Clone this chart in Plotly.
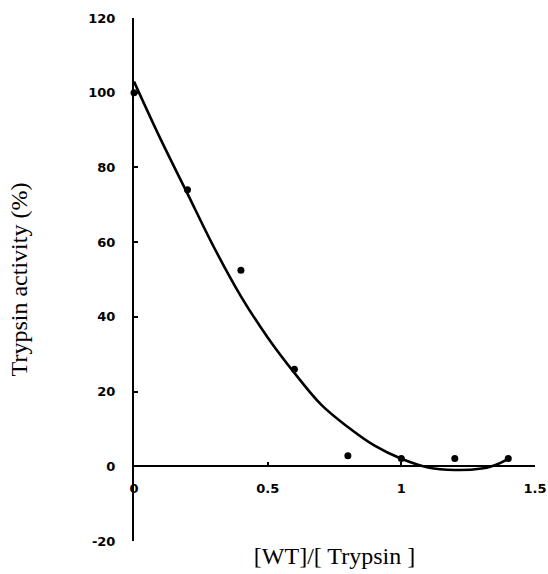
import plotly.graph_objects as go

# measured data points
ratio = [0.0, 0.2, 0.4, 0.6, 0.8, 1.0, 1.2, 1.4]
activity = [100, 74, 52.5, 26, 2.8, 2.1, 2.1, 2.1]

# trend curve
curve_x = [0.0, 0.1, 0.2, 0.3, 0.4, 0.5, 0.6, 0.7, 0.8, 0.9, 1.0, 1.1, 1.2, 1.3, 1.35, 1.4]
curve_y = [103, 87.5, 73, 58.5, 45.5, 34.5, 25, 16.5, 10.5, 5.5, 2, -0.3, -1, -0.6, 0.3, 2]

x_ticks = [0, 0.5, 1, 1.5]
x_tick_labels = ["0", "0.5", "1", "1.5"]
y_ticks = [-20, 0, 20, 40, 60, 80, 100, 120]
y_tick_labels = ["-20", "0", "20", "40", "60", "80", "100", "120"]

fig = go.Figure()
fig.add_trace(go.Scatter(
    x=curve_x, y=curve_y, mode="lines", line=dict(color="black", width=2.6, shape="spline"),
    cliponaxis=False, showlegend=False, hoverinfo="skip"))
fig.add_trace(go.Scatter(
    x=ratio, y=activity, mode="markers", marker=dict(color="black", size=7, symbol="circle"),
    cliponaxis=False, showlegend=False))

tick_font = dict(family="DejaVu Sans", size=13, color="black", weight="bold")
fig.update_layout(
    width=548, height=574,
    margin=dict(l=134, r=13, t=18, b=33),
    paper_bgcolor="white", plot_bgcolor="white",
    xaxis=dict(
        range=[0, 1.5], tickvals=x_ticks, ticktext=x_tick_labels,
        anchor="free", position=20 / 140, automargin=False,
        showline=True, linecolor="black", linewidth=1.5,
        ticks="inside", ticklen=4, tickcolor="black", tickwidth=1.5,
        showgrid=False, zeroline=False, tickfont=tick_font, ticklabelstandoff=10,
        ticklabeloverflow="allow",
        title=dict(text="[WT]/[ Trypsin ]", standoff=52,
                   font=dict(family="Liberation Serif", size=24, color="black")),
    ),
    yaxis=dict(
        range=[-20, 120], tickvals=y_ticks, ticktext=y_tick_labels, automargin=False,
        showline=True, linecolor="black", linewidth=2,
        ticks="inside", ticklen=4, tickcolor="black", tickwidth=1.5,
        showgrid=False, zeroline=False, tickfont=tick_font, ticklabelstandoff=14,
        title=dict(text="Trypsin activity (%)", standoff=54,
                   font=dict(family="Liberation Serif", size=24, color="black")),
    ),
)

fig.write_html(
    "out.html",
    config={"displayModeBar": False},
    post_script="document.body.style.margin='0';document.body.style.overflow='hidden';",
)
